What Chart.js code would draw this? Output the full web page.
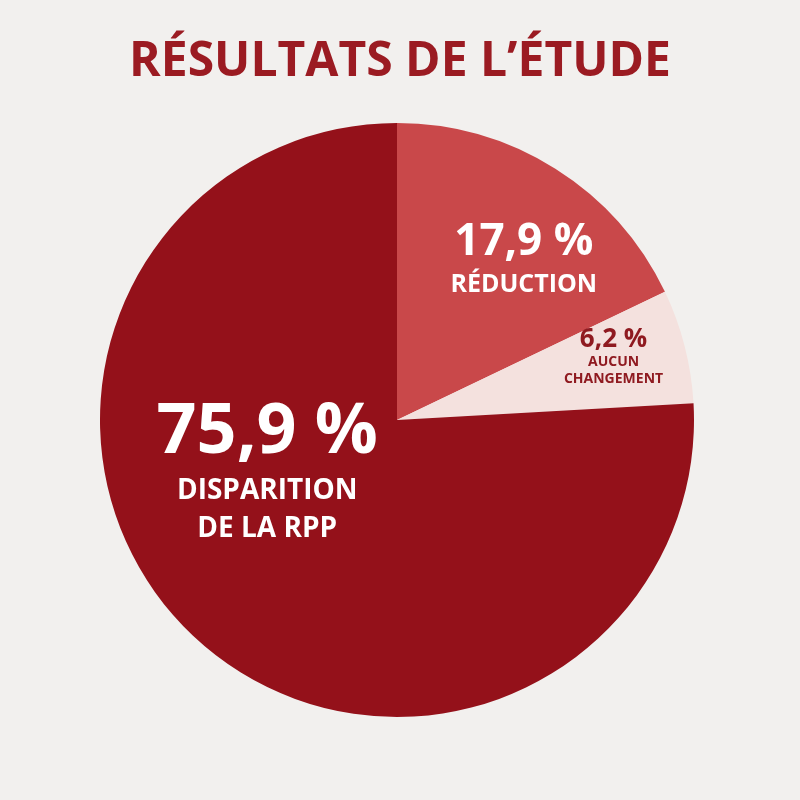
<!DOCTYPE html>
<html><head><meta charset="utf-8">
<script src="https://cdn.jsdelivr.net/npm/chart.js@4"></script>
<style>html,body{margin:0;padding:0;background:#f2f0ee;}#c{display:block;}</style>
</head><body>
<div style="width:800px;height:800px"><canvas id="c" width="800" height="800"></canvas></div>
<script>
const titleText = "RÉSULTATS DE L’ÉTUDE";
const categories = ["RÉDUCTION", "AUCUN CHANGEMENT", "DISPARITION DE LA RPP"];
const values = [17.9, 6.2, 75.9];
const valueLabels = ["17,9 %", "6,2 %", "75,9 %"];
const labelLines = [["RÉDUCTION"], ["AUCUN", "CHANGEMENT"], ["DISPARITION", "DE LA RPP"]];
const colors = ["#c9484a", "#f4e1de", "#94111a"];
const textColors = ["#ffffff", "#8f1a20", "#ffffff"];
// label placement: [angle offset (deg), radius fraction, value font, sub font, line gap]
const placement = [[6, 0.69, 44, 25, 34], [-2, 0.76, 26, 14, 17], [25, 0.47, 70, 28, 38]];

const labelPlugin = {
  id: 'labels',
  afterDraw(chart) {
    const ctx = chart.ctx;
    ctx.save();
    ctx.fillStyle = "#9b1b22";
    ctx.font = "bold 48px 'Open Sans', sans-serif";
    ctx.textAlign = "center"; ctx.textBaseline = "middle";
    ctx.fillText(titleText, 400, 62);
    const meta = chart.getDatasetMeta(0);
    meta.data.forEach((arc, i) => {
      const p = placement[i];
      const mid = (arc.startAngle + arc.endAngle) / 2 + p[0] * Math.PI / 180;
      const r = arc.outerRadius * p[1];
      const x = arc.x + Math.cos(mid) * r, y = arc.y + Math.sin(mid) * r;
      ctx.fillStyle = textColors[i];
      const lines = labelLines[i];
      const gap = p[4];
      const total = p[2] + lines.length * gap;
      let yy = y - total / 2 + p[2] * 0.5;
      ctx.font = `bold ${p[2]}px 'Open Sans', sans-serif`;
      ctx.fillText(valueLabels[i], x, yy);
      yy += p[2] * 0.5 + gap * 0.6;
      ctx.font = `bold ${p[3]}px 'Open Sans', sans-serif`;
      lines.forEach(l => { ctx.fillText(l, x, yy); yy += gap; });
    });
    ctx.restore();
  }
};

new Chart(document.getElementById('c'), {
  type: 'pie',
  data: { labels: categories, datasets: [{ data: values, backgroundColor: colors, borderWidth: 0 }] },
  options: {
    responsive: false, animation: false,
    layout: { padding: { top: 123, bottom: 83, left: 0, right: 6 } },
    plugins: { legend: { display: false }, tooltip: { enabled: false } }
  },
  plugins: [labelPlugin]
});
</script>
</body></html>
